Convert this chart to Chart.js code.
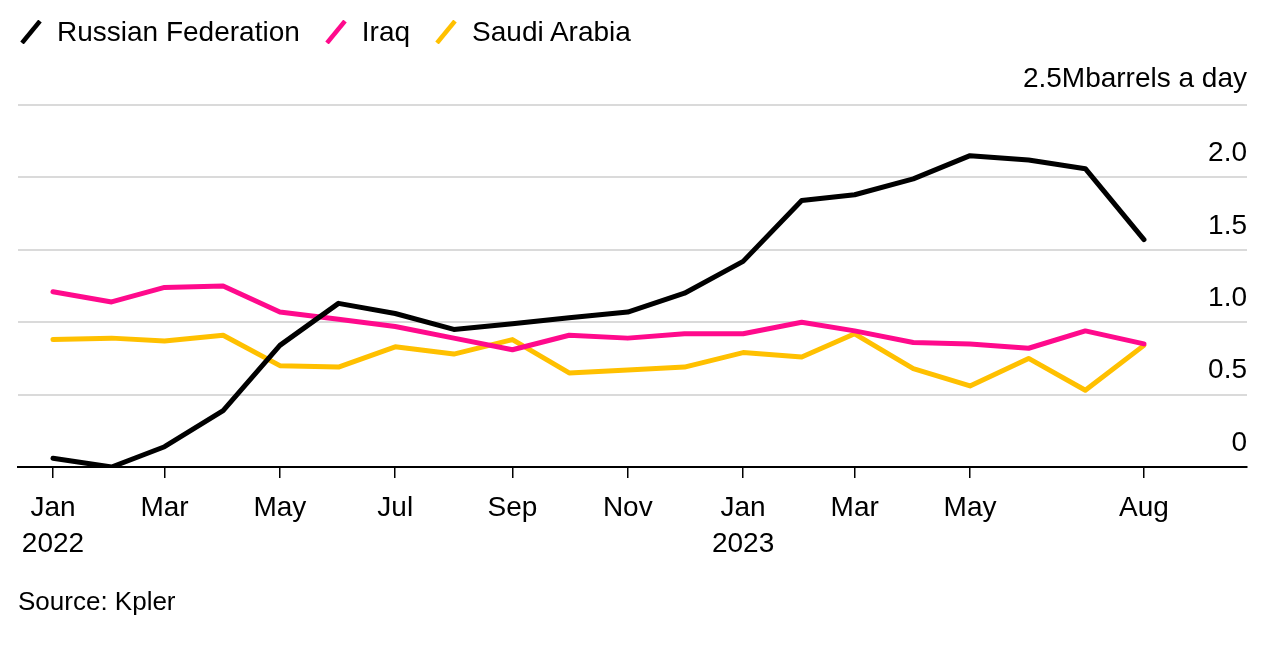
<!DOCTYPE html>
<html>
<head>
<meta charset="utf-8">
<script src="https://cdn.jsdelivr.net/npm/chart.js@4.4.0/dist/chart.umd.min.js"></script>
<style>
html,body{margin:0;padding:0;background:#fff;}
body{width:1284px;height:650px;position:relative;overflow:hidden;font-family:"Liberation Sans",Arial,sans-serif;color:#000;}
#chart{position:absolute;left:0;top:0;}
.legend{position:absolute;left:19px;top:14px;display:flex;align-items:center;font-size:28px;line-height:36px;}
.item{display:flex;align-items:center;margin-right:24px;}
.item svg{margin-right:14px;}
#source{position:absolute;left:18px;top:586px;font-size:26px;line-height:30px;}
</style>
</head>
<body>
<canvas id="chart" width="1284" height="650"></canvas>
<div class="legend" id="legend"></div>
<div id="source">Source: Kpler</div>
<script>
// ---- Data ----
const months = ['2022-01','2022-02','2022-03','2022-04','2022-05','2022-06','2022-07','2022-08','2022-09','2022-10','2022-11','2022-12',
                '2023-01','2023-02','2023-03','2023-04','2023-05','2023-06','2023-07','2023-08'];
const russia = [0.06, 0.00, 0.14, 0.39, 0.84, 1.13, 1.06, 0.95, 0.99, 1.03, 1.07, 1.20, 1.42, 1.84, 1.88, 1.99, 2.15, 2.12, 2.06, 1.57];
const iraq   = [1.21, 1.14, 1.24, 1.25, 1.07, 1.02, 0.97, 0.89, 0.81, 0.91, 0.89, 0.92, 0.92, 1.00, 0.94, 0.86, 0.85, 0.82, 0.94, 0.85];
const saudi  = [0.88, 0.89, 0.87, 0.91, 0.70, 0.69, 0.83, 0.78, 0.88, 0.65, 0.67, 0.69, 0.79, 0.76, 0.92, 0.68, 0.56, 0.75, 0.53, 0.84];
const seriesNames = ['Russian Federation', 'Iraq', 'Saudi Arabia'];
const seriesColors = ['#000000', '#ff0a8c', '#ffc000'];
const xTickMonths = ['2022-01','2022-03','2022-05','2022-07','2022-09','2022-11','2023-01','2023-03','2023-05','2023-08'];
const xTickLabels = [['Jan','2022'],'Mar','May','Jul','Sep','Nov',['Jan','2023'],'Mar','May','Aug'];
const yTickValues = [0, 0.5, 1.0, 1.5, 2.0, 2.5];
const yTickLabels = ['0', '0.5', '1.0', '1.5', '2.0', '2.5Mbarrels a day'];

// ---- Helpers ----
const base = Date.UTC(2022, 0, 1);
function dayOf(m) {
  const [y, mo] = m.split('-').map(Number);
  return (Date.UTC(y, mo - 1, 1) - base) / 86400000;
}
const xs = months.map(dayOf);
const xTickDays = xTickMonths.map(dayOf);
const seriesValues = [russia, iraq, saudi];

// Legend (HTML)
const legendEl = document.getElementById('legend');
seriesNames.forEach((n, i) => {
  const it = document.createElement('div');
  it.className = 'item';
  it.innerHTML = '<svg width="24" height="24" viewBox="0 0 24 24"><line x1="3" y1="23" x2="21" y2="1" stroke="' + seriesColors[i] + '" stroke-width="4.5"/></svg><span>' + n + '</span>';
  legendEl.appendChild(it);
});

const FONT = '"Liberation Sans", Arial, sans-serif';

const yLabelPlugin = {
  id: 'yLabels',
  afterDatasetsDraw(chart) {
    const ctx = chart.ctx, y = chart.scales.y, area = chart.chartArea;
    ctx.save();
    ctx.font = '28px ' + FONT;
    ctx.fillStyle = '#000';
    ctx.textAlign = 'right';
    ctx.textBaseline = 'middle';
    yTickValues.forEach((v, i) => {
      const off = (i === yTickValues.length - 1) ? 26 : 24;
      ctx.fillText(yTickLabels[i], area.right, y.getPixelForValue(v) - off);
    });
    ctx.restore();
  }
};

new Chart(document.getElementById('chart'), {
  type: 'line',
  data: {
    datasets: seriesValues.map((vals, i) => ({
      label: seriesNames[i],
      data: vals.map((v, j) => ({ x: xs[j], y: v })),
      borderColor: seriesColors[i],
      backgroundColor: seriesColors[i],
      borderWidth: 5,
      pointRadius: 0,
      tension: 0,
      borderJoinStyle: 'round',
      borderCapStyle: 'round',
      fill: false
    }))
  },
  options: {
    responsive: false,
    animation: false,
    devicePixelRatio: 1,
    layout: { padding: { left: 18, right: 37, top: 105, bottom: 83 } },
    plugins: { legend: { display: false }, tooltip: { enabled: false } },
    scales: {
      x: {
        type: 'linear',
        min: -18.5,
        max: 631.5,
        afterBuildTicks(scale) { scale.ticks = xTickDays.map(v => ({ value: v })); },
        afterFit(scale) { scale.height = 100; },
        grid: { display: true, drawOnChartArea: false, drawTicks: true, tickLength: 11, color: '#000', lineWidth: 1.5 },
        border: { display: true, color: '#000', width: 2 },
        ticks: {
          autoSkip: false,
          maxRotation: 0,
          padding: 12,
          color: '#000',
          font: { family: FONT, size: 28, lineHeight: 1.29 },
          callback(value, index) { return xTickLabels[index]; }
        }
      },
      y: {
        min: 0,
        max: 2.5,
        afterFit(scale) { scale.width = 0; },
        afterBuildTicks(scale) { scale.ticks = yTickValues.map(v => ({ value: v })); },
        grid: {
          drawTicks: false,
          lineWidth: 2,
          color: (c) => (c.tick && c.tick.value === 0) ? 'rgba(0,0,0,0)' : '#dadada'
        },
        border: { display: false },
        ticks: { display: false }
      }
    }
  },
  plugins: [yLabelPlugin]
});
</script>
</body>
</html>
